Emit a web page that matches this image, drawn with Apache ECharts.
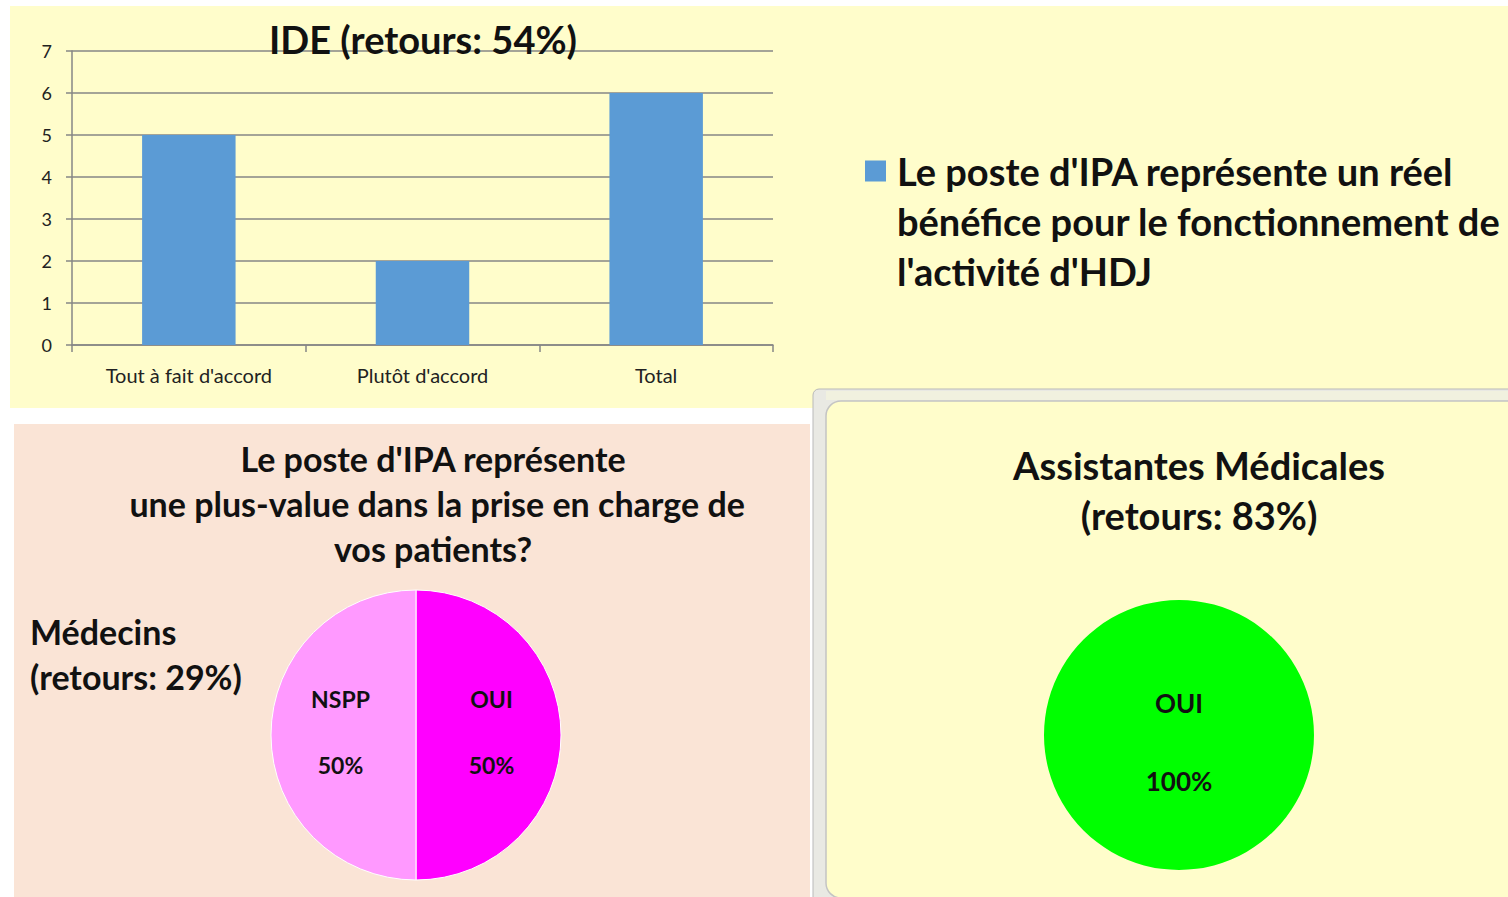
<!DOCTYPE html>
<html>
<head>
<meta charset="utf-8">
<script src="https://cdn.jsdelivr.net/npm/echarts@6/dist/echarts.min.js"></script>
<style>
html,body{margin:0;padding:0;background:#fff;}
#c{width:1508px;height:897px;}
</style>
</head>
<body>
<div id="c"></div>
<script>
// ---- data ----
const ideCategories = ["Tout à fait d'accord", "Plutôt d'accord", "Total"];
const ideValues = [5, 2, 6];
const ideSeriesName = "Le poste d'IPA représente un réel\nbénéfice pour le fonctionnement de\nl'activité d'HDJ";
const yTicks = [0, 7, 1]; // min, max, interval

const medCategories = ["OUI", "NSPP"];
const medValues = [50, 50];
const medColors = ['#FF00FF', '#FF99FF'];

const amCategories = ["OUI"];
const amValues = [100];
const amColors = ['#00FF00'];

const titleIDE = "IDE (retours: 54%)";
const titleMed = "Le poste d'IPA représente\n une plus-value dans la prise en charge de\nvos patients?";
const labelMed = "Médecins\n(retours: 29%)";
const titleAM = "Assistantes Médicales\n(retours: 83%)";

const FONT = 'Lato, "Open Sans", sans-serif';

const chart = echarts.init(document.getElementById('c'), null, {renderer: 'svg'});

const option = {
  animation: false,
  backgroundColor: '#ffffff',
  textStyle: {fontFamily: FONT},
  graphic: [
    {type: 'rect', z: 0, shape: {x: 10, y: 6, width: 1498, height: 402}, style: {fill: '#FFFDCB'}},
    {type: 'rect', z: 0, shape: {x: 14, y: 424, width: 796, height: 473}, style: {fill: '#FAE4D6'}},
    {type: 'rect', z: 0, shape: {x: 813, y: 389, width: 720, height: 530, r: 6}, style: {fill: '#E9E9E3', stroke: '#B9B9B9', lineWidth: 1}},
    {type: 'rect', z: 0, shape: {x: 826, y: 391, width: 700, height: 9}, style: {fill: '#F1F1DF'}},
    {type: 'rect', z: 0, shape: {x: 826, y: 401, width: 700, height: 497, r: 15}, style: {fill: '#FFFDCB', stroke: '#C4C4C4', lineWidth: 1.5}}
  ],
  title: [
    {text: titleIDE, left: 418, top: 15, textAlign: 'center',
     textStyle: {fontFamily: FONT, fontSize: 38, fontWeight: 'bold', color: '#111'}},
    {text: titleMed, left: 428, top: 431, textAlign: 'center',
     textStyle: {fontFamily: FONT, fontSize: 34, fontWeight: 'bold', color: '#111', lineHeight: 45}},
    {text: labelMed, left: 25, top: 604, textAlign: 'left',
     textStyle: {fontFamily: FONT, fontSize: 34, fontWeight: 'bold', color: '#111', lineHeight: 45}},
    {text: titleAM, left: 1194, top: 435, textAlign: 'center',
     textStyle: {fontFamily: FONT, fontSize: 38, fontWeight: 'bold', color: '#111', lineHeight: 50}}
  ],
  legend: {
    data: [ideSeriesName],
    left: 865, top: 46, padding: 0,
    icon: 'rect', itemWidth: 21, itemHeight: 21,
    selectedMode: false,
    formatter: (name) => '\n\n' + name,
    textStyle: {fontFamily: FONT, fontSize: 38, fontWeight: 'bold', color: '#111', lineHeight: 50, padding: [0, 0, 0, 6]}
  },
  grid: {left: 72, top: 51, width: 701, height: 294, containLabel: false},
  xAxis: {
    type: 'category', data: ideCategories,
    axisLine: {lineStyle: {color: '#868686', width: 1.5}},
    axisTick: {show: true, length: 7, lineStyle: {color: '#868686', width: 1.5}},
    axisLabel: {fontFamily: FONT, fontSize: 20, color: '#222', margin: 20}
  },
  yAxis: {
    type: 'value', min: yTicks[0], max: yTicks[1], interval: yTicks[2],
    axisLine: {show: true, lineStyle: {color: '#868686', width: 1.5}},
    axisTick: {show: true, length: 6, lineStyle: {color: '#868686', width: 1.5}},
    axisLabel: {fontFamily: FONT, fontSize: 18, color: '#222', margin: 20},
    splitLine: {lineStyle: {color: '#868686', width: 1.5}}
  },
  series: [
    {
      type: 'bar', name: ideSeriesName, data: ideValues,
      barWidth: '40%', itemStyle: {color: '#5B9BD5'}
    },
    {
      type: 'pie', name: 'Médecins', center: [416, 735], radius: [0, 145],
      startAngle: 90, clockwise: true,
      data: medCategories.map((c, i) => ({name: c, value: medValues[i], itemStyle: {color: medColors[i]}})),
      itemStyle: {borderColor: '#ffffff', borderWidth: 1},
      label: {
        position: 'inner',
        formatter: '{n|{b}}\n{g|}\n{n|{d}%}\n{s|}',
        fontFamily: FONT, fontSize: 23, fontWeight: 'bold', color: '#111',
        rich: {
          n: {fontFamily: FONT, fontSize: 23, fontWeight: 'bold', color: '#111', lineHeight: 33},
          g: {lineHeight: 33},
          s: {lineHeight: 7}
        }
      },
      labelLine: {show: false},
      emphasis: {disabled: true}
    },
    {
      type: 'pie', name: 'Assistantes Médicales', center: [1179, 735], radius: [0, 135],
      data: amCategories.map((c, i) => ({name: c, value: amValues[i], itemStyle: {color: amColors[i]}})),
      itemStyle: {borderWidth: 0},
      label: {
        position: 'center',
        formatter: '{s|}\n{n|{b}}\n{g|}\n{n|{d}%}',
        fontFamily: FONT, fontSize: 26, fontWeight: 'bold', color: '#111',
        rich: {
          n: {fontFamily: FONT, fontSize: 26, fontWeight: 'bold', color: '#111', lineHeight: 39},
          g: {lineHeight: 39},
          s: {lineHeight: 14}
        }
      },
      labelLine: {show: false},
      emphasis: {disabled: true}
    }
  ]
};
chart.setOption(option);
</script>
</body>
</html>
